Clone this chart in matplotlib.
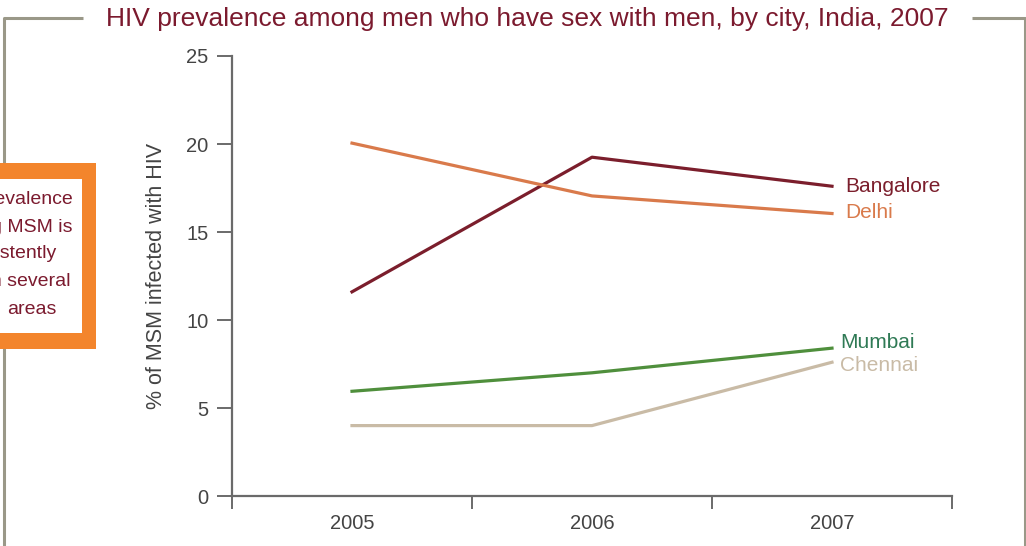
import matplotlib
matplotlib.use("Agg")
import matplotlib.pyplot as plt
from matplotlib.patches import Rectangle

plt.rcParams['font.family'] = ['Liberation Sans', 'DejaVu Sans']

# DATA
years = ["2005", "2006", "2007"]
cities = ["Bangalore", "Delhi", "Mumbai", "Chennai"]
bangalore = [11.6, 19.25, 17.6]
delhi = [20.05, 17.05, 16.05]
mumbai = [5.95, 7.0, 8.4]
chennai = [4.0, 4.0, 7.6]
yticks = [0, 5, 10, 15, 20, 25]
note_lines = ["HIV prevalence", "among MSM is", "consistently", "high in several", "areas"]

line_colors = {"Bangalore": "#7b1e2c", "Delhi": "#d97a4b", "Mumbai": "#4f8f3c", "Chennai": "#c9bba6"}
label_colors = {"Bangalore": "#7b1e2c", "Delhi": "#d97a4b", "Mumbai": "#2f7a55", "Chennai": "#c9bba6"}
series = {"Bangalore": bangalore, "Delhi": delhi, "Mumbai": mumbai, "Chennai": chennai}
title_color = "#7b1a2e"
frame_color = "#9a9888"
axis_color = "#6a6a6a"

W, H = 1026, 546
fig = plt.figure(figsize=(W / 100, H / 100), dpi=100)

# background layer in pixel coords for the frame and the note box
bg = fig.add_axes([0, 0, 1, 1])
bg.set_xlim(0, W)
bg.set_ylim(H, 0)
bg.axis('off')
bg.plot([4, 4, 83], [H, 18, 18], color=frame_color, lw=2.2, solid_capstyle='butt')
bg.plot([972, 1025, 1025], [18, 18, H], color=frame_color, lw=2.2, solid_capstyle='butt')
bg.text(527, 19, "HIV prevalence among men who have sex with men, by city, India, 2007",
        color=title_color, fontsize=19, ha='center', va='center')

# orange note box
bg.add_patch(Rectangle((-20, 163), 116, 186, facecolor="#f3852c", edgecolor='none', zorder=3))
bg.add_patch(Rectangle((-20, 179), 102, 154, facecolor="white", edgecolor='none', zorder=4))
note_right = [73, 72, 56, 70, 57]
note_y = [200, 227, 254, 281, 309]
for txt, xr, yy in zip(note_lines, note_right, note_y):
    bg.text(xr, yy, txt, color=title_color, fontsize=14, ha='right', va='center', zorder=5)

# chart
ax = fig.add_axes([232 / W, 50 / H, 720 / W, 440 / H])
x = list(range(len(years)))
for c in cities:
    ax.plot(x, series[c], color=line_colors[c], lw=2.3, solid_joinstyle='round')

label_pos = {"Bangalore": (2.054, 17.6), "Delhi": (2.054, 16.08), "Mumbai": (2.033, 8.75), "Chennai": (2.033, 7.44)}
for c in cities:
    px, py = label_pos[c]
    ax.text(px, py, c, color=label_colors[c], fontsize=15, ha='left', va='center')

ax.set_xlim(-0.5, 2.5)
ax.set_ylim(0, 25)
for s in ['top', 'right']:
    ax.spines[s].set_visible(False)
for s in ['left', 'bottom']:
    ax.spines[s].set_color(axis_color)
    ax.spines[s].set_linewidth(1.6)

ax.set_yticks(yticks)
ax.tick_params(axis='y', direction='out', length=11, width=1.4, color=axis_color,
               labelsize=14.5, labelcolor='#444444', pad=6)
ax.set_xticks([-0.5, 0.5, 1.5, 2.5])
ax.set_xticklabels([])
ax.set_xticks(x, minor=True)
ax.set_xticklabels(years, minor=True)
ax.tick_params(axis='x', which='major', direction='out', length=9.5, width=1.4, color=axis_color)
ax.tick_params(axis='x', which='minor', length=0, labelsize=14.5, labelcolor='#444444', pad=13)

ax.set_ylabel("% of MSM infected with HIV", fontsize=15.5, color='#444444')
ax.yaxis.set_label_coords(-0.09, 0.5)
ax.patch.set_alpha(0)

fig.savefig("out.png", dpi=100)
